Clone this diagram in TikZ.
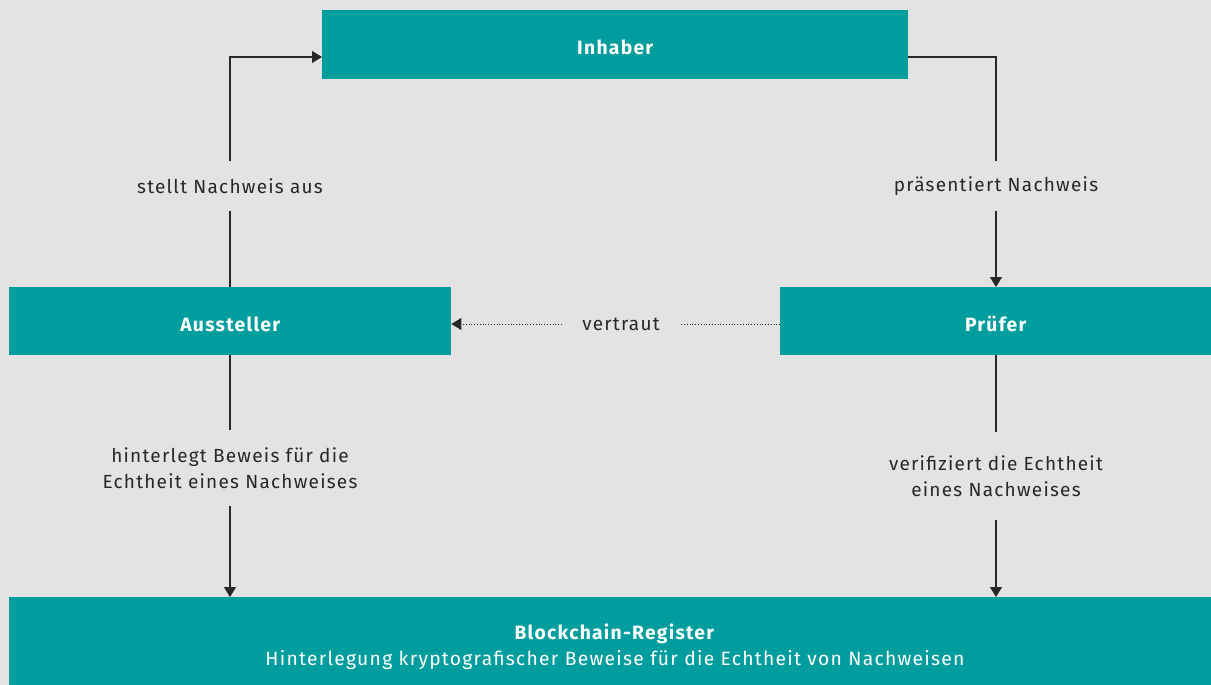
\documentclass[tikz,border=0pt]{standalone}
\usepackage{fontspec}
\setmainfont[LetterSpace=6.5]{Fira Sans}
\usetikzlibrary{arrows.meta}
\definecolor{bg}{RGB}{227,227,227}
\definecolor{teal}{RGB}{0,157,158}
\definecolor{ln}{RGB}{40,40,40}
\begin{document}
\begin{tikzpicture}[x=1pt,y=-1pt,
  box/.style={fill=teal,draw=none,text=white,font=\fontsize{19.3}{20}\selectfont\bfseries,inner sep=0pt,anchor=north west,text height=20pt,text depth=0pt},
  lab/.style={inner sep=0pt,align=center,text=ln,font=\fontsize{19}{26}\selectfont},
  conn/.style={draw=ln,line width=1.2pt},
  tip/.style={-{Triangle[length=10pt,width=12pt]}},
  dots/.style={draw=ln,line width=0.9pt,dash pattern=on 0.9pt off 1.9pt}]
\fill[bg] (0,0) rectangle (1211,685);
\useasboundingbox (0,0) rectangle (1211,685);
\node[box,minimum width=586pt,minimum height=69pt] (inh) at (322,10) {Inhaber};
\node[box,minimum width=442pt,minimum height=68pt] (aus) at (9,287) {Aussteller};
\node[box,minimum width=431pt,minimum height=68pt] (pru) at (780,287) {Prüfer};
\node[box,minimum width=1202pt,minimum height=88pt] (bc) at (9,597) {};
\node[align=center,text=white,inner sep=0pt,font=\fontsize{19.3}{26}\selectfont] (bct) at (615,647)
  {\textbf{Blockchain-Register}\\Hinterlegung kryptografischer Beweise für die Echtheit von Nachweisen};
\node[lab,minimum height=50pt] (l1) at (230,186) {stellt Nachweis aus};
\node[lab,minimum height=50pt] (l2) at (996,186) {präsentiert Nachweis};
\node[lab,minimum width=118pt] (l3) at (621,324) {vertraut};
\node[lab,minimum height=75pt] (l4) at (230,468) {hinterlegt Beweis für die\\Echtheit eines Nachweises};
\node[lab,minimum height=88pt] (l5) at (996,476) {verifiziert die Echtheit\\eines Nachweises};
\coordinate (c1) at (322,57);
\coordinate (c2) at (908,57);
\draw[conn] (aus.north -| l1) -- (l1);
\draw[conn,tip] (l1) |- (c1);
\draw[conn] (c2) -| (l2);
\draw[conn,tip] (l2) -- (l2 |- pru.north);
\draw[dots] (pru.west |- l3) -- (l3);
\draw[dots,tip] (l3) -- (aus.east |- l3);
\draw[conn] (aus.south -| l4) -- (l4);
\draw[conn,tip] (l4) -- (l4 |- bc.north);
\draw[conn] (pru.south -| l5) -- (l5);
\draw[conn,tip] (l5) -- (l5 |- bc.north);
\end{tikzpicture}
\end{document}
